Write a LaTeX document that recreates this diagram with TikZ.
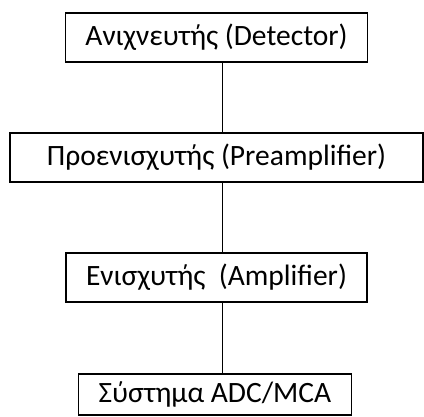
\documentclass[tikz,border=0pt]{standalone}
\usepackage{fontspec}
\setmainfont{Carlito}

\begin{document}
\begin{tikzpicture}[x=1pt,y=-1pt,
  stage/.style={draw,line width=1.2pt,inner xsep=20pt,inner ysep=0pt,minimum height=49pt,
    font=\fontsize{29.5}{34}\selectfont},
  link/.style={line width=0.9pt}]
  \useasboundingbox (0,0) rectangle (424,416);
  \node[stage] (det) at (216.5,37.5) {Ανιχνευτής (Detector)};
  \node[stage,minimum width=413pt] (pre) at (216.5,157.5) {Προενισχυτής (Preamplifier)};
  \node[stage] (amp) at (216.5,277.5) {Ενισχυτής\ \ (Amplifier)};
  \node[stage,minimum height=41pt] (adc) at (215,394.5) {Σύστημα ADC/MCA};
  \draw[link] ([xshift=5.5pt]det.south) -- ([xshift=5.5pt]det.south |- pre.north);
  \draw[link] ([xshift=5.5pt]pre.south) -- ([xshift=5.5pt]pre.south |- amp.north);
  \draw[link] ([xshift=5.5pt]amp.south) -- ([xshift=5.5pt]amp.south |- adc.north);
\end{tikzpicture}
\end{document}
